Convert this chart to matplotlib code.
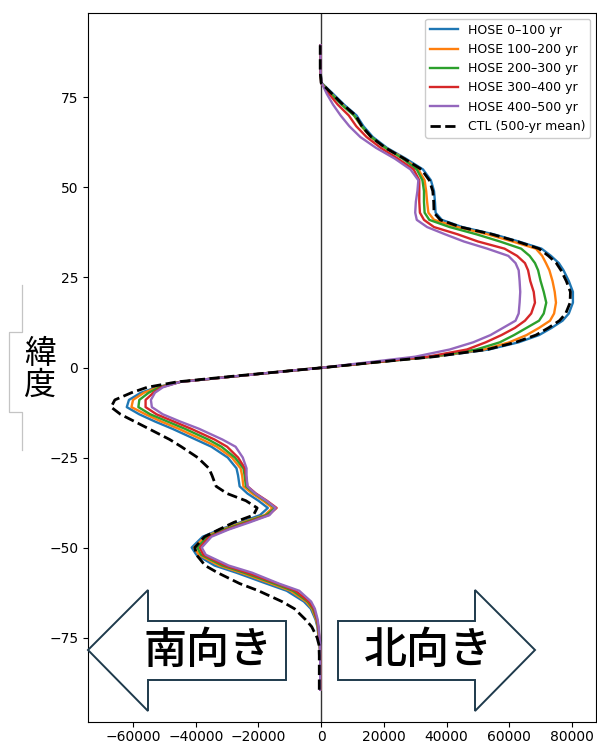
import matplotlib
matplotlib.use("Agg")
import matplotlib.pyplot as plt
from matplotlib.patches import Polygon
from matplotlib.lines import Line2D

# Latitude grid (degrees)
lat = [-89.5, -85, -80, -77, -75, -72, -70, -67, -65, -62, -60, -57, -55, -52, -50,
       -47, -45, -43, -41, -39, -37, -35, -33, -30, -28, -25, -22, -20, -17, -15,
       -13, -11, -9, -7, -5.5, -4, -2.5, -1, 0,
       1.5, 3, 5, 7, 9, 11, 13, 15, 18, 21, 24, 27, 29, 31, 33, 35, 37, 39, 41, 43,
       46, 49, 52, 55, 58, 61, 64, 67, 70, 73, 76, 79, 82, 86, 89.5]

# Meridional transport, HOSE experiment by century, and control mean
hose_0_100 = [-300, -300, -300, -500, -800, -1200, -1800, -3300, -5500, -11000, -17500,
              -27000, -34000, -39800, -41300, -37800, -32300, -25800, -19500, -17000,
              -20000, -23500, -26000, -26500, -27000, -29800, -35000, -40000, -47500,
              -53000, -58000, -62000, -61300, -57500, -52500, -45000, -28000, -11000, 1000,
              18000, 36000, 53500, 63000, 69500, 73500, 77000, 79000, 80300, 80300,
              79000, 77300, 75800, 73300, 70300, 63000, 55000, 45000, 38500, 36500,
              36300, 36000, 35000, 32500, 27000, 21000, 16500, 13500, 11300, 7300,
              3800, 200, -200, -200, -200]
hose_100_200 = [-300, -300, -300, -400, -700, -1100, -1600, -2900, -4800, -9800, -16000,
                -25500, -32500, -39000, -40500, -37000, -31500, -25000, -18000, -15500,
                -18500, -22000, -24800, -25200, -25700, -28500, -33300, -38000, -45500,
                -51000, -56000, -60500, -60000, -56500, -52000, -45000, -28000, -11000, 1000,
                18000, 35500, 52000, 60000, 65500, 69500, 73000, 74300, 74900, 74500,
                73800, 72800, 71700, 70500, 68500, 61000, 53000, 43500, 36000, 34200,
                33800, 33500, 33000, 31000, 26500, 20500, 15800, 12800, 10500, 6700,
                3300, 100, -200, -200, -200]
hose_200_300 = [-300, -300, -300, -400, -600, -1000, -1400, -2600, -4300, -9000, -15000,
                -24500, -31500, -38300, -39500, -36300, -30800, -24300, -17500, -14700,
                -17800, -21200, -24000, -24400, -24800, -27500, -31800, -36000, -43500,
                -49000, -54500, -58300, -58000, -55000, -51500, -45000, -28000, -11000, 1000,
                18000, 35000, 49500, 57000, 61500, 65500, 69500, 71000, 71800, 71000,
                70000, 69200, 68200, 66500, 63800, 57000, 49500, 41000, 34500, 33000,
                32800, 32800, 32300, 30500, 26000, 20500, 16000, 13000, 10500, 6500,
                3200, 100, -200, -200, -200]
hose_300_400 = [-300, -300, -300, -400, -600, -900, -1300, -2300, -3900, -8200, -14000,
                -23500, -30500, -37600, -38700, -35600, -30000, -23500, -16800, -14200,
                -17300, -20800, -23500, -24000, -24300, -26500, -30000, -34000, -41500,
                -47000, -52500, -56000, -56000, -53500, -51000, -45000, -28000, -11000, 1000,
                17500, 34000, 46500, 52500, 57500, 61800, 65000, 67000, 68200, 67800,
                66700, 66000, 65000, 62500, 58500, 50000, 43500, 36000, 32800, 31500,
                31300, 31300, 31300, 29500, 24500, 19000, 14500, 11200, 8800, 5300,
                2500, 0, -200, -200, -200]
hose_400_500 = [-300, -300, -300, -300, -500, -800, -1100, -2000, -3200, -7000, -13500,
                -22000, -29500, -36800, -38100, -35000, -29500, -22800, -16500, -14500,
                -17500, -21000, -23500, -23800, -23800, -25000, -27300, -31500, -39000,
                -45000, -50500, -54000, -54300, -53000, -50500, -45000, -28000, -11000, 1000,
                15500, 30000, 41000, 48500, 54000, 58000, 62000, 63000, 63300, 63500,
                63300, 63000, 62000, 59700, 53000, 45500, 39500, 33800, 30500, 30000,
                30200, 30700, 31000, 28500, 23500, 17500, 12500, 9000, 6200, 3800,
                1800, 200, -200, -200, -200]
ctl_mean = [-600, -600, -600, -700, -1300, -3000, -5000, -8500, -12500, -20000, -26000,
            -33000, -37000, -39800, -40300, -37200, -32600, -27800, -21600, -20400,
            -24000, -30000, -33500, -34800, -35800, -39400, -44600, -48300, -55000,
            -59500, -64000, -67000, -65800, -60500, -55500, -46000, -29000, -11000, 1000,
            18000, 36000, 53000, 62000, 68500, 72500, 76000, 78000, 79400, 79500,
            78200, 76500, 75000, 72500, 69500, 62500, 54500, 44500, 38000, 36000,
            35900, 35600, 34500, 32000, 26500, 20500, 16000, 13000, 11000, 7000,
            3500, 0, -300, -300, -300]

hose_series = [hose_0_100, hose_100_200, hose_200_300, hose_300_400, hose_400_500]
hose_labels = ["HOSE 0–100 yr", "HOSE 100–200 yr", "HOSE 200–300 yr",
               "HOSE 300–400 yr", "HOSE 400–500 yr"]
hose_colors = ["#1f77b4", "#ff7f0e", "#2ca02c", "#d62728", "#9467bd"]
ctl_label = "CTL (500-yr mean)"

y_ticks = [-75, -50, -25, 0, 25, 50, 75]
ylabel_text = "緯\n度"
south_text = "南向き"
north_text = "北向き"
jp_font = ["Noto Sans CJK JP", "DejaVu Sans"]

W, H = 597, 744
fig = plt.figure(figsize=(W / 100, H / 100), dpi=100)


def fx(px):
    return px / W


def fy(py):
    return 1 - py / H


ax = fig.add_axes([fx(88), fy(722), fx(596) - fx(88), fy(13) - fy(722)])

for vals, lab, col in zip(hose_series, hose_labels, hose_colors):
    ax.plot(vals, lat, color=col, lw=1.7, label=lab)
ax.plot(ctl_mean, lat, color="black", lw=2.0, ls="--", label=ctl_label)

ax.axvline(0, color="#333333", lw=1.0, zorder=1)
ax.set_yticks(y_ticks)
ax.tick_params(axis="x", pad=2.5)
ax.legend(loc="upper right", fontsize=9, handlelength=2.2, framealpha=1.0,
          labelspacing=0.5, borderaxespad=0.45)

# Light bracket outline around the latitude label
bracket = [(22, 285), (22, 332), (9, 332), (9, 412), (22, 412), (22, 450)]
fig.add_artist(Line2D([fx(x) for x, _ in bracket], [fy(y) for _, y in bracket],
                      transform=fig.transFigure, color="#c4c4c4", lw=0.9))
fig.text(fx(40), fy(370), ylabel_text, ha="center", va="center", fontsize=23,
         linespacing=1.02, family=jp_font)

# Direction arrows
arrow_edge = "#1e3a4c"
left_arrow = [(88, 650), (148, 590), (148, 621), (286, 621), (286, 680),
              (148, 680), (148, 711)]
right_arrow = [(338, 621), (475, 621), (475, 590), (535, 650), (475, 711),
               (475, 680), (338, 680)]
for pts in (left_arrow, right_arrow):
    fig.add_artist(Polygon([(fx(x), fy(y)) for x, y in pts], closed=True,
                           transform=fig.transFigure, facecolor="white",
                           edgecolor=arrow_edge, lw=1.4, zorder=5))
fig.text(fx(208), fy(650), south_text, ha="center", va="center", fontsize=31,
         fontweight="medium", family=jp_font, zorder=6)
fig.text(fx(428), fy(650), north_text, ha="center", va="center", fontsize=31,
         fontweight="medium", family=jp_font, zorder=6)

fig.savefig("out.png", dpi=100)
